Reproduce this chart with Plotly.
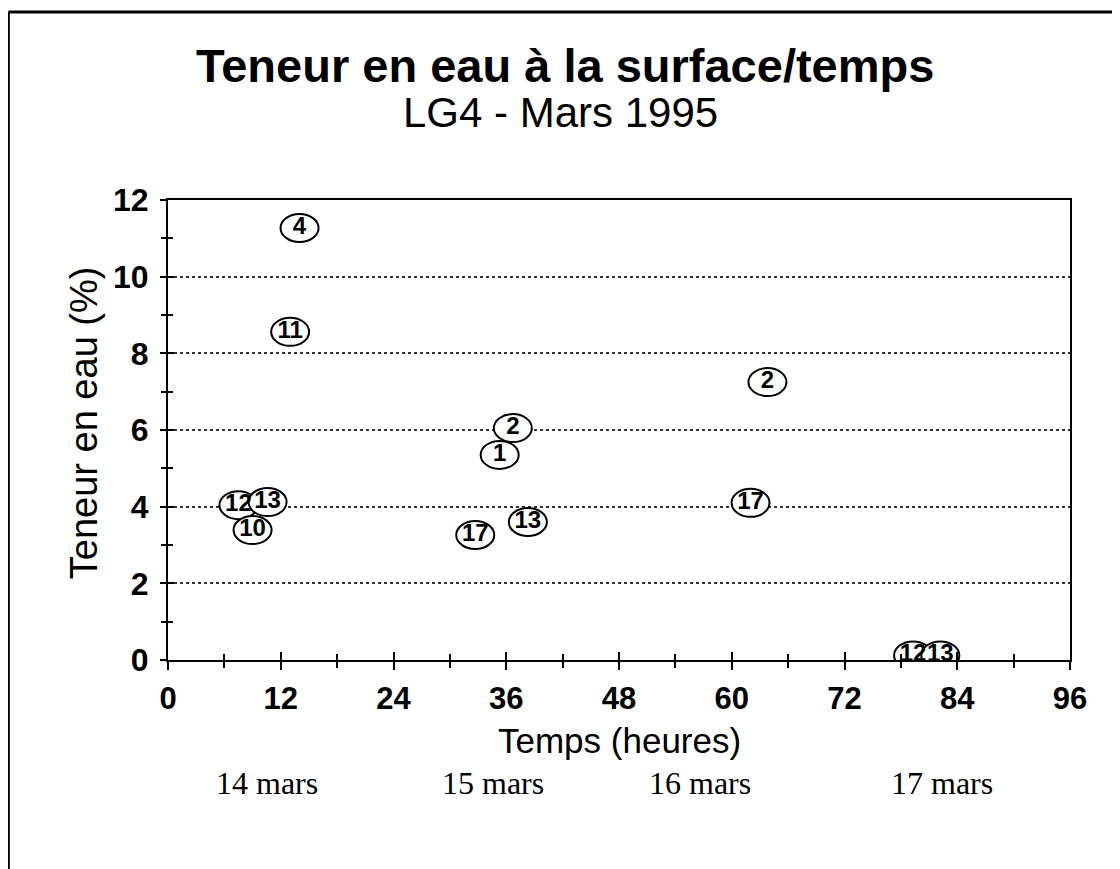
import plotly.graph_objects as go

# Water content at surface vs. time, LG4 - March 1995
HOURS = [14.0, 13.0, 36.7, 35.3, 63.8, 62.0, 7.5, 10.6, 9.0, 32.7, 38.3, 79.3, 82.2]
TENEUR = [11.27, 8.56, 6.05, 5.35, 7.25, 4.10, 4.04, 4.12, 3.39, 3.26, 3.60, 0.12, 0.12]
LABELS = ["4", "11", "2", "1", "2", "17", "12", "13", "10", "17", "13", "12", "13"]

X_TICKS = [0, 12, 24, 36, 48, 60, 72, 84, 96]
Y_TICKS = [0, 2, 4, 6, 8, 10, 12]

DAY_LABELS = ["14 mars", "15 mars", "16 mars", "17 mars"]
DAY_POS = [10.5, 34.6, 56.6, 82.4]

SANS = "Arial, Liberation Sans, sans-serif"
SERIF = "Times New Roman, Liberation Serif, serif"
INK = "black"

fig = go.Figure()

# ellipses around each sample number
for h, v in zip(HOURS, TENEUR):
    fig.add_shape(
        type="circle", xref="x", yref="y",
        xsizemode="pixel", ysizemode="pixel",
        xanchor=h, yanchor=v, x0=-19, x1=19, y0=-14, y1=14,
        line=dict(color=INK, width=2), fillcolor="white", layer="between",
    )

fig.add_trace(go.Scatter(
    x=HOURS, y=TENEUR, mode="text", text=LABELS,
    textfont=dict(family=SANS, size=24, color=INK, weight="bold"),
    textposition="middle center", cliponaxis=False, hoverinfo="x+y+text",
    showlegend=False,
))
# carrier for the inner-tick overlay axes
fig.add_trace(go.Scatter(x=[0], y=[0], xaxis="x2", yaxis="y2", mode="markers",
                         marker=dict(opacity=0), showlegend=False, hoverinfo="skip"))

axis_common = dict(showline=True, linecolor=INK, linewidth=2, zeroline=False)

# the page adds an 8px body margin, so margins are trimmed by 8 to keep the plot in place
fig.update_layout(
    width=1120, height=869,
    margin=dict(l=160, r=58, t=192, b=217),
    paper_bgcolor="white", plot_bgcolor="white",
    font=dict(family=SANS, color=INK),
    showlegend=False,
    xaxis=dict(
        range=[0, 96], tickvals=X_TICKS, ticks="outside", ticklen=8, tickwidth=2,
        tickcolor=INK, mirror=True, showgrid=False,
        minor=dict(dtick=6, tick0=0, ticks="outside", ticklen=6, tickwidth=1.5, tickcolor=INK),
        tickfont=dict(family=SANS, size=31, color=INK, weight="bold"),
        ticklabelstandoff=2, **axis_common,
    ),
    yaxis=dict(
        range=[0, 12], tickvals=Y_TICKS, ticks="outside", ticklen=6, tickwidth=2,
        tickcolor=INK, mirror=True, showgrid=True, gridcolor="#333333",
        gridwidth=1.5, griddash="dot",
        minor=dict(dtick=1, tick0=0, ticks="outside", ticklen=5, tickwidth=1.5, tickcolor=INK),
        tickfont=dict(family=SANS, size=32, color=INK, weight="bold"),
        ticklabelstandoff=5, **axis_common,
    ),
    xaxis2=dict(
        overlaying="x", anchor="y", side="bottom", range=[0, 96], tickvals=X_TICKS,
        ticks="inside", ticklen=8, tickwidth=2, tickcolor=INK, showticklabels=False,
        showgrid=False, showline=False, zeroline=False,
        minor=dict(dtick=6, tick0=0, ticks="inside", ticklen=6, tickwidth=1.5, tickcolor=INK),
    ),
    yaxis2=dict(
        overlaying="y", anchor="x", side="left", range=[0, 12], tickvals=Y_TICKS,
        ticks="inside", ticklen=6, tickwidth=2, tickcolor=INK, showticklabels=False,
        showgrid=False, showline=False, zeroline=False,
        minor=dict(dtick=1, tick0=0, ticks="inside", ticklen=5, tickwidth=1.5, tickcolor=INK),
    ),
)


def note(text, x, y, size, family=SANS, xref="paper", angle=0):
    fig.add_annotation(text=text, xref=xref, yref="paper", x=x, y=y, textangle=angle,
                       xanchor="center", yanchor="middle", showarrow=False,
                       font=dict(family=family, size=size, color=INK))


# titles
note("<b>Teneur en eau à la surface/temps</b>", 0.44, 1.293, 47)
note("LG4 - Mars 1995", 0.435, 1.191, 42)
note("Temps (heures)", 0.501, -0.174, 35)
note("Teneur en eau (%)", -0.093, 0.515, 38, angle=-90)

for lab, pos in zip(DAY_LABELS, DAY_POS):
    note(lab, pos, -0.267, 32, family=SERIF, xref="x")

# outer page frame (left and top edges visible in the scan)
fig.add_shape(type="line", xref="paper", yref="paper", x0=-0.177, x1=-0.177,
              y0=1.4087, y1=-0.48, line=dict(color=INK, width=3))
fig.add_shape(type="line", xref="paper", yref="paper", x0=-0.177, x1=1.07,
              y0=1.4087, y1=1.4087, line=dict(color=INK, width=3))

fig.write_html("out.html")
